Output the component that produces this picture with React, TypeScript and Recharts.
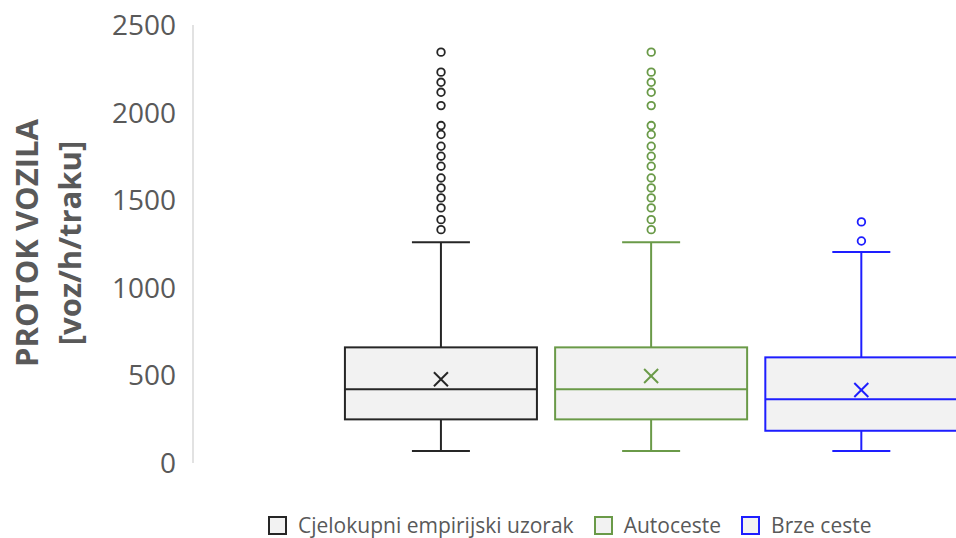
import React from 'react';
import { ComposedChart, Bar, Scatter, XAxis, YAxis } from 'recharts';

const seriesNames = ['Cjelokupni empirijski uzorak', 'Autoceste', 'Brze ceste'];
const seriesPos = [1, 2, 3];
const minValues = [68, 68, 68];
const q1Values = [249, 249, 184];
const medianValues = [421, 421, 364];
const q3Values = [660, 660, 603];
const maxValues = [1260, 1260, 1204];
const meanValues = [478, 497, 417];
const outliersAll = [2345, 2231, 2173, 2116, 2040, 1926, 1875, 1808, 1751, 1694, 1627, 1570, 1513, 1456, 1389, 1332];
const outliersAutoceste = [2345, 2231, 2173, 2116, 2040, 1926, 1875, 1808, 1751, 1694, 1627, 1570, 1513, 1456, 1389, 1332];
const outliersBrze = [1267, 1376];
const yTicks = [0, 500, 1000, 1500, 2000, 2500];

const colors = ['#262626', '#6a9a48', '#1e1eff'];
const boxFill = '#f2f2f2';
const textColor = '#595959';
const font = '"Open Sans", sans-serif';

const boxData = seriesPos.map((x, i) => ({
  x,
  whisker: [minValues[i], maxValues[i]],
  q1: q1Values[i],
  median: medianValues[i],
  q3: q3Values[i],
  mean: meanValues[i],
}));

const outlierSets = [outliersAll, outliersAutoceste, outliersBrze].map((vals, i) =>
  vals.map((v) => ({ x: seriesPos[i], v }))
);

const BoxShape = (props: any) => {
  const { x, y, width, height, payload, index } = props;
  const color = colors[index];
  const [lo, hi] = payload.whisker;
  const ppu = Math.abs(height) / (hi - lo);
  const top = Math.min(y, y + height);
  const toY = (v: number) => top + (hi - v) * ppu;
  const cx = x + width / 2;
  const cap = 29;
  const m = 7;
  const yMean = toY(payload.mean);
  return (
    <g stroke={color} strokeWidth={2} fill="none">
      <line x1={cx} x2={cx} y1={toY(hi)} y2={toY(payload.q3)} />
      <line x1={cx} x2={cx} y1={toY(payload.q1)} y2={toY(lo)} />
      <line x1={cx - cap} x2={cx + cap} y1={toY(hi)} y2={toY(hi)} />
      <line x1={cx - cap} x2={cx + cap} y1={toY(lo)} y2={toY(lo)} />
      <rect
        x={x}
        y={toY(payload.q3)}
        width={width}
        height={toY(payload.q1) - toY(payload.q3)}
        fill={boxFill}
      />
      <line x1={x} x2={x + width} y1={toY(payload.median)} y2={toY(payload.median)} />
      <line x1={cx - m} x2={cx + m} y1={yMean - m} y2={yMean + m} />
      <line x1={cx - m} x2={cx + m} y1={yMean + m} y2={yMean - m} />
    </g>
  );
};

const makeDot = (color: string) => (props: any) => (
  <circle cx={props.cx} cy={props.cy} r={3.8} fill="#fff" stroke={color} strokeWidth={1.8} />
);

const AxisTitle = () => (
  <g fill={textColor} fontFamily={font} fontWeight={700} fontSize={31}>
    <text x={26} y={243} textAnchor="middle" dominantBaseline="central" transform="rotate(-90, 26, 243)">
      PROTOK VOZILA
    </text>
    <text x={69} y={243} textAnchor="middle" dominantBaseline="central" transform="rotate(-90, 69, 243)">
      [voz/h/traku]
    </text>
  </g>
);

const App = () => {
  return (
    <div style={{ position: 'absolute', left: 0, top: 0, width: 956, height: 538, overflow: 'hidden', background: '#fff' }}>
      <ComposedChart width={956} height={538} data={boxData} margin={{ top: 25, right: 0, bottom: 75, left: 0 }}>
        <XAxis dataKey="x" type="number" domain={[-0.18, 3.45]} hide />
        <YAxis
          width={193}
          domain={[0, 2500]}
          ticks={yTicks}
          tickLine={false}
          tickSize={0}
          tickMargin={17}
          axisLine={{ stroke: '#d9d9d9', strokeWidth: 1.5 }}
          tick={{ fill: textColor, fontSize: 28, fontFamily: font }}
          label={{ content: () => <AxisTitle /> }}
        />
        <Bar dataKey="whisker" barSize={192} shape={BoxShape} isAnimationActive={false} />
        {outlierSets.map((set, i) => (
          <Scatter
            key={seriesNames[i]}
            data={set}
            dataKey="v"
            shape={makeDot(colors[i])}
            isAnimationActive={false}
          />
        ))}
      </ComposedChart>
      <div
        style={{
          position: 'absolute',
          left: 268,
          top: 511,
          display: 'flex',
          alignItems: 'center',
          fontFamily: font,
          fontSize: 21,
          color: textColor,
          whiteSpace: 'nowrap',
        }}
      >
        {seriesNames.map((name, i) => (
          <div key={name} style={{ display: 'flex', alignItems: 'center', marginRight: 20 }}>
            <span
              style={{
                display: 'inline-block',
                width: 15,
                height: 15,
                border: `2px solid ${colors[i]}`,
                background: boxFill,
                marginRight: 11,
              }}
            />
            <span>{name}</span>
          </div>
        ))}
      </div>
    </div>
  );
};

export default App;
